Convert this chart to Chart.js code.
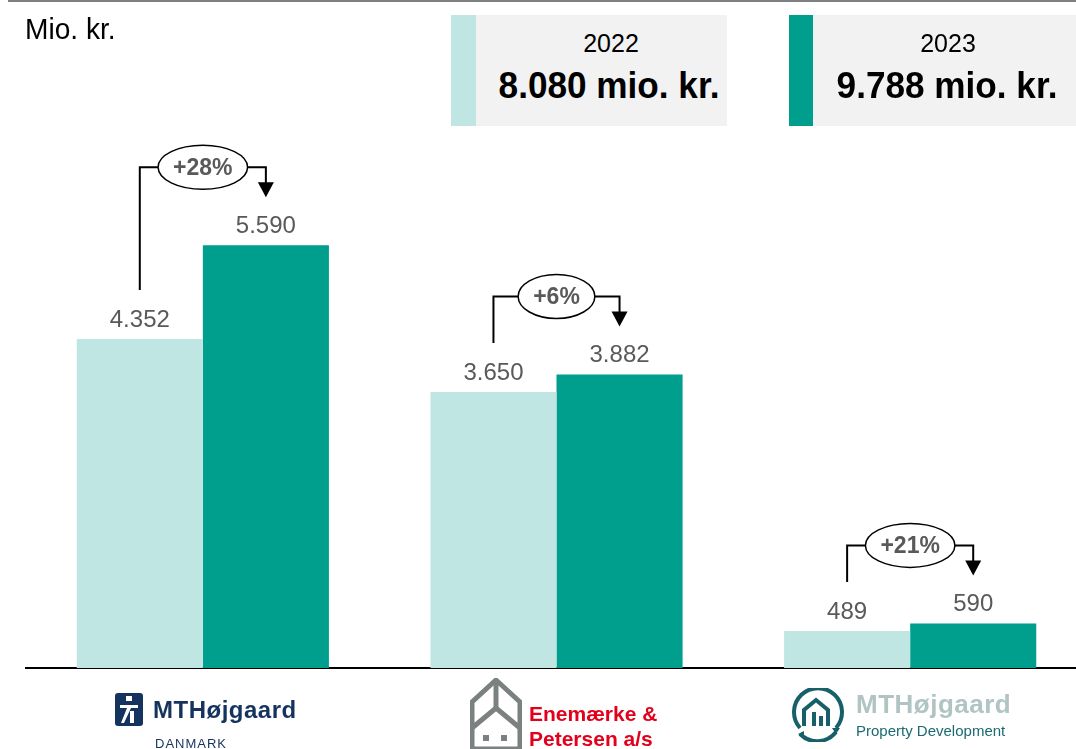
<!DOCTYPE html>
<html>
<head>
<meta charset="utf-8">
<script src="https://cdn.jsdelivr.net/npm/chart.js@4"></script>
<style>
  html, body { margin: 0; padding: 0; background: #fff; overflow: hidden; }
  body { width: 1076px; height: 749px; position: relative; font-family: "Liberation Sans", Arial, sans-serif; }
  #wrap { position: absolute; left: 0; top: 0; width: 1090px; height: 749px; }
  .topline { position: absolute; left: 8px; top: 0; width: 1068px; height: 2px; background: #7f7f7f; }
  .unit { position: absolute; left: 25px; top: 13px; font-size: 29px; color: #000; transform: scaleX(0.97); transform-origin: left; }
  .stripe { position: absolute; top: 15px; height: 111px; }
  .box { position: absolute; top: 15px; height: 111px; background: #f2f2f2; }
  .yr { position: absolute; top: 29px; font-size: 25px; color: #000; transform: translateX(-50%); white-space: nowrap; }
  .tot { position: absolute; top: 65px; font-size: 37px; font-weight: bold; color: #000; transform: translateX(-50%) scaleX(0.95); white-space: nowrap; }
  .logo { position: absolute; white-space: nowrap; }
</style>
</head>
<body>
<div id="wrap"><canvas id="chart" width="1090" height="749"></canvas></div>

<div class="topline"></div>
<div class="unit">Mio. kr.</div>

<!-- ── Legend boxes ── -->
<div class="stripe" style="left:451px;width:25px;background:#bfe6e2"></div>
<div class="box" style="left:476px;width:251px"></div>
<div class="yr" style="left:611px">2022</div>
<div class="tot" style="left:609px">8.080 mio. kr.</div>

<div class="stripe" style="left:789px;width:24px;background:#009e8c"></div>
<div class="box" style="left:813px;width:280px"></div>
<div class="yr" style="left:948px">2023</div>
<div class="tot" style="left:947px">9.788 mio. kr.</div>

<!-- ── Logos ── -->
<svg class="logo" style="left:115px;top:693px" width="28" height="33" viewBox="0 0 28 33">
  <rect x="0" y="0" width="28" height="33" rx="3" fill="#14335f"/>
  <rect x="11" y="3" width="6" height="5" fill="#fff"/>
  <polygon points="5,12 23,12 23,15 16,15 9,30 6,30 12,15 5,15" fill="#fff"/>
  <rect x="15" y="18" width="4" height="12" fill="#fff"/>
</svg>
<div class="logo" style="left:153px;top:696px;font-size:24px;font-weight:bold;color:#14335f;letter-spacing:0.5px">MTHøjgaard</div>
<div class="logo" style="left:155px;top:736px;font-size:13px;color:#14335f;letter-spacing:1px">DANMARK</div>

<svg class="logo" style="left:470px;top:678px" width="52" height="71" viewBox="0 0 52 71">
  <polygon points="26,2 50,24 50,71 2,71 2,24" fill="none" stroke="#7b8081" stroke-width="5"/>
  <line x1="26" y1="2" x2="26" y2="30" stroke="#7b8081" stroke-width="5"/>
  <polyline points="2,50 26,30 50,50" fill="none" stroke="#7b8081" stroke-width="5"/>
  <rect x="13" y="57" width="6" height="6" fill="#7b8081"/>
  <rect x="31" y="57" width="6" height="6" fill="#7b8081"/>
</svg>
<div class="logo" style="left:529px;top:702px;font-size:21px;font-weight:bold;color:#e2001a">Enemærke &amp;</div>
<div class="logo" style="left:529px;top:727px;font-size:21px;font-weight:bold;color:#e2001a">Petersen a/s</div>

<svg class="logo" style="left:790px;top:688px" width="56" height="54" viewBox="0 0 56 54">
  <path d="M10 40 A24 24 0 1 1 46 40" fill="none" stroke="#17606a" stroke-width="4"/>
  <path d="M46 44 A24 24 0 0 1 10 46" fill="none" stroke="#17606a" stroke-width="4"/>
  <polygon points="42,40 50,40 46,46" fill="#17606a"/>
  <polygon points="14,43 14,50 8,46" fill="#17606a"/>
  <polyline points="14,38 14,22 26,12 38,22 38,38" fill="none" stroke="#17606a" stroke-width="4"/>
  <line x1="24" y1="38" x2="24" y2="24" stroke="#17606a" stroke-width="4"/>
  <line x1="31" y1="38" x2="31" y2="28" stroke="#17606a" stroke-width="4"/>
</svg>
<div class="logo" style="left:856px;top:689px;font-size:26px;font-weight:bold;color:#b0c4c4;letter-spacing:0.5px">MTHøjgaard</div>
<div class="logo" style="left:856px;top:722px;font-size:15px;color:#1b6a72">Property Development</div>

<script>
// ── Data ─────────────────────────────────────────────────────────
const CATEGORIES = ['MT Højgaard Danmark', 'Enemærke & Petersen', 'MT Højgaard Property Development'];
const VALUES_2022 = [4352, 3650, 489];
const VALUES_2023 = [5590, 3882, 590];
const CHANGES = ['+28%', '+6%', '+21%'];
const SERIES = ['2022', '2023'];

const LIGHT = '#bfe6e2';
const DARK = '#009e8c';

// ── Helpers ──────────────────────────────────────────────────────
function fmt(v) {
  return String(v).replace(/\B(?=(\d{3})+(?!\d))/g, '.');
}

// ── Labels + growth brackets ─────────────────────────────────────
const annotate = {
  id: 'annotate',
  afterDatasetsDraw(chart) {
    const ctx = chart.ctx;
    const m0 = chart.getDatasetMeta(0);
    const m1 = chart.getDatasetMeta(1);

    ctx.save();
    ctx.font = '24px "Liberation Sans", Arial, sans-serif';
    ctx.fillStyle = '#595959';
    ctx.textAlign = 'center';
    ctx.textBaseline = 'alphabetic';
    [m0, m1].forEach((meta, d) => {
      meta.data.forEach((bar, i) => {
        ctx.fillText(fmt(chart.data.datasets[d].data[i]), bar.x, bar.y - 12);
      });
    });

    ctx.strokeStyle = '#000';
    ctx.fillStyle = '#000';
    ctx.lineWidth = 2;
    m0.data.forEach((a, i) => {
      const b = m1.data[i];
      const yLine = b.y - 78;
      const mid = (a.x + b.x) / 2;
      const tip = b.y - 48;

      ctx.font = 'bold 23px "Liberation Sans", Arial, sans-serif';
      const rx = ctx.measureText(CHANGES[i]).width / 2 + 15;
      const ry = 22;

      ctx.beginPath();
      ctx.moveTo(a.x, a.y - 49);
      ctx.lineTo(a.x, yLine);
      ctx.lineTo(mid - rx, yLine);
      ctx.moveTo(mid + rx, yLine);
      ctx.lineTo(b.x, yLine);
      ctx.lineTo(b.x, tip - 14);
      ctx.stroke();

      ctx.beginPath();
      ctx.moveTo(b.x - 8, tip - 15);
      ctx.lineTo(b.x + 8, tip - 15);
      ctx.lineTo(b.x, tip);
      ctx.closePath();
      ctx.fill();

      ctx.beginPath();
      ctx.ellipse(mid, yLine, rx, ry, 0, 0, Math.PI * 2);
      ctx.fillStyle = '#fff';
      ctx.fill();
      ctx.lineWidth = 1.5;
      ctx.stroke();
      ctx.lineWidth = 2;

      ctx.fillStyle = '#595959';
      ctx.textBaseline = 'middle';
      ctx.fillText(CHANGES[i], mid, yLine + 1);
      ctx.textBaseline = 'alphabetic';
      ctx.fillStyle = '#000';
    });
    ctx.restore();
  }
};

// ── Chart ────────────────────────────────────────────────────────
new Chart(document.getElementById('chart'), {
  type: 'bar',
  data: {
    labels: CATEGORIES,
    datasets: [
      { label: SERIES[0], data: VALUES_2022, backgroundColor: LIGHT },
      { label: SERIES[1], data: VALUES_2023, backgroundColor: DARK }
    ]
  },
  options: {
    responsive: false,
    animation: false,
    layout: { padding: { left: 26, right: 3, top: 63, bottom: 81 } },
    datasets: { bar: { categoryPercentage: 0.713, barPercentage: 1.0 } },
    plugins: {
      legend: { display: false },
      tooltip: { enabled: false }
    },
    scales: {
      x: {
        ticks: { display: false },
        grid: { display: false, drawTicks: false },
        border: { display: true, color: '#000', width: 2 }
      },
      y: {
        display: false,
        min: 0,
        max: 8000
      }
    }
  },
  plugins: [annotate]
});
</script>
</body>
</html>
